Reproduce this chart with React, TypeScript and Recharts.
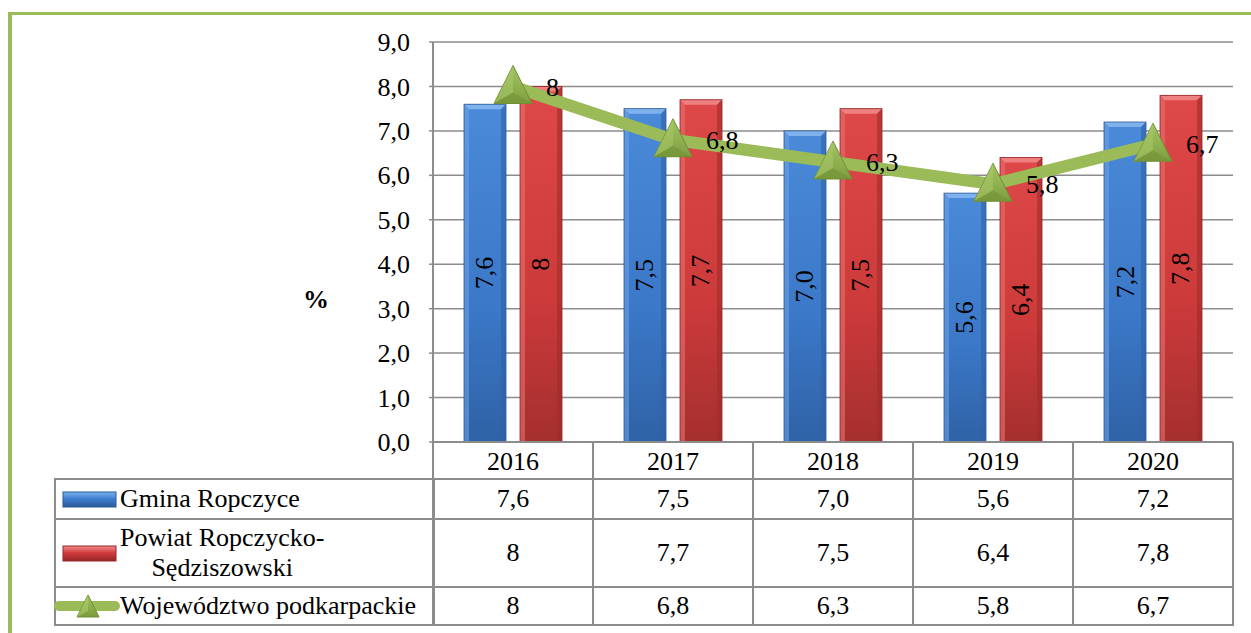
import React from 'react';
import { ComposedChart, Bar, Line, XAxis, YAxis, CartesianGrid, LabelList } from 'recharts';

const years = ['2016', '2017', '2018', '2019', '2020'];
const gmina = [7.6, 7.5, 7.0, 5.6, 7.2];
const powiat = [8, 7.7, 7.5, 6.4, 7.8];
const woj = [8, 6.8, 6.3, 5.8, 6.7];
const gminaLabels = ['7,6', '7,5', '7,0', '5,6', '7,2'];
const powiatLabels = ['8', '7,7', '7,5', '6,4', '7,8'];
const wojLabels = ['8', '6,8', '6,3', '5,8', '6,7'];
const yTicks = [0, 1, 2, 3, 4, 5, 6, 7, 8, 9];
const seriesNames = ['Gmina Ropczyce', 'Powiat Ropczycko-\nSędziszowski', 'Województwo podkarpackie'];

const data = years.map((y, i) => ({
  year: y,
  gmina: gmina[i],
  powiat: powiat[i],
  woj: woj[i],
  gminaLabel: gminaLabels[i],
  powiatLabel: powiatLabels[i],
  wojLabel: wojLabels[i],
}));

const FONT = '"Liberation Serif"';
const FS = 26;
const GRID = '#8c8c8c';
const GREEN = '#9BBB59';

const makeBarShape = (id: string, light: string, dark: string, edgeLight: string, edgeDark: string) => (props: any) => {
  const { x, y, width, height } = props;
  if (!height || height <= 0) return null;
  const b = 5;
  return (
    <g>
      <rect x={x} y={y} width={width} height={height} fill={`url(#${id})`} />
      <polygon points={`${x},${y} ${x + width},${y} ${x + width - b},${y + b} ${x + b},${y + b}`} fill={light} />
      <polygon points={`${x},${y} ${x + b},${y + b} ${x + b},${y + height} ${x},${y + height}`} fill={edgeLight} opacity={0.6} />
      <polygon points={`${x + width},${y} ${x + width - b},${y + b} ${x + width - b},${y + height} ${x + width},${y + height}`} fill={edgeDark} opacity={0.6} />
      <rect x={x} y={y} width={width} height={height} fill="none" stroke={dark} strokeWidth={0.8} />
    </g>
  );
};

const BlueBar = makeBarShape('gBlue', '#7fb2ec', '#2c5a96', '#6aa0e2', '#2e62a6');
const RedBar = makeBarShape('gRed', '#ef8080', '#8f2525', '#e87070', '#a02c2c');

const RotLabel = (props: any) => {
  const { x, y, width, height, value } = props;
  const cx = x + width / 2;
  const cy = y + height / 2;
  return (
    <text x={cx} y={cy} transform={`rotate(-90 ${cx} ${cy})`} textAnchor="middle" dominantBaseline="central"
      fontFamily="Liberation Serif" fontSize={FS} fill="#000">{value}</text>
  );
};

const Triangle = (props: any) => {
  const { cx, cy } = props;
  if (cx == null || cy == null) return null;
  const w = 38, h = 38;
  const top = cy - h / 2 - 2, bot = cy + h / 2 - 2;
  const ix = cx, iy = cy + 6;
  return (
    <g>
      <polygon points={`${cx},${top} ${cx + w / 2},${bot} ${cx - w / 2},${bot}`} fill="url(#gTri)" stroke="#6f8f33" strokeWidth={1} />
      <polygon points={`${cx},${top} ${ix},${iy} ${cx - w / 2},${bot}`} fill="#a9c96a" opacity={0.55} />
      <polygon points={`${cx - w / 2},${bot} ${ix},${iy} ${cx + w / 2},${bot}`} fill="#6f8f33" opacity={0.5} />
    </g>
  );
};

const XTick = (props: any) => {
  const { x, y, payload } = props;
  return (
    <text x={x} y={y + 19} dy="0.35em" textAnchor="middle" fontFamily="Liberation Serif" fontSize={FS} fill="#000">{payload.value}</text>
  );
};

const fmtY = (v: number) => v.toFixed(1).replace('.', ',');

const YTick = (props: any) => {
  const { x, y, payload } = props;
  return (
    <text x={x} y={y} dy="0.35em" textAnchor="end" fontFamily="Liberation Serif" fontSize={FS} fill="#000">{fmtY(payload.value)}</text>
  );
};

const WojLabel = (props: any) => {
  const { x, y, value } = props;
  return (
    <text x={x + 33} y={y} dy="0.35em" textAnchor="start" fontFamily="Liberation Serif" fontSize={FS} fill="#000">{value}</text>
  );
};

const Icon = ({ kind }: { kind: number }) => {
  if (kind === 2) {
    return (
      <svg width={66} height={26} style={{ display: 'block' }}>
        <line x1={5} y1={13} x2={61} y2={13} stroke={GREEN} strokeWidth={10} strokeLinecap="round" />
        <polygon points="34,2 45,24 23,24" fill="url(#gTriI)" stroke="#6f8f33" strokeWidth={1} />
        <polygon points="34,2 34,18 23,24" fill="#b0cf72" opacity={0.5} />
      </svg>
    );
  }
  const id = kind === 0 ? 'iBlue' : 'iRed';
  const c = kind === 0 ? ['#7ab2ef', '#3f7fd0', '#2b5a98'] : ['#f49090', '#d23c3c', '#962828'];
  return (
    <svg width={56} height={17} style={{ display: 'block' }}>
      <defs>
        <linearGradient id={id} x1="0" y1="0" x2="0" y2="1">
          <stop offset="0" stopColor={c[0]} />
          <stop offset="0.45" stopColor={c[1]} />
          <stop offset="1" stopColor={c[2]} />
        </linearGradient>
      </defs>
      <rect x={1} y={1} width={53} height={15} fill={`url(#${id})`} stroke={c[2]} strokeWidth={1} />
    </svg>
  );
};

const rowHeights = [40, 68, 38];
const rowValues = [gminaLabels, powiatLabels, wojLabels];

export default function App() {
  const cellBorder = `2px solid ${GRID}`;
  return (
    <div style={{ position: 'absolute', left: 0, top: 0, width: 1251, height: 633, overflow: 'hidden', background: '#fff', fontFamily: FONT }}>
      <div style={{ position: 'absolute', left: 8, top: 12, width: 1400, height: 800, borderLeft: `4px solid ${GREEN}`, borderTop: `3px solid ${GREEN}` }} />
      <svg width={0} height={0} style={{ position: 'absolute' }}>
        <defs>
          <linearGradient id="gTriI" x1="0" y1="0" x2="0" y2="1">
            <stop offset="0" stopColor="#a6c762" />
            <stop offset="1" stopColor="#7a9a3c" />
          </linearGradient>
        </defs>
      </svg>
      <div style={{ position: 'absolute', left: 0, top: 0 }}>
        <ComposedChart width={1251} height={479} data={data} margin={{ top: 42, right: 18, bottom: 0, left: 0 }} barGap={14}>
          <defs>
            <linearGradient id="gBlue" x1="0" y1="0" x2="0" y2="1">
              <stop offset="0" stopColor="#4a8ad8" />
              <stop offset="0.6" stopColor="#3b78c8" />
              <stop offset="1" stopColor="#2f62a6" />
            </linearGradient>
            <linearGradient id="gRed" x1="0" y1="0" x2="0" y2="1">
              <stop offset="0" stopColor="#de4848" />
              <stop offset="0.6" stopColor="#cc3a3a" />
              <stop offset="1" stopColor="#a52f2f" />
            </linearGradient>
            <linearGradient id="gTri" x1="0" y1="0" x2="0" y2="1">
              <stop offset="0" stopColor="#a3c563" />
              <stop offset="1" stopColor="#7e9f40" />
            </linearGradient>
          </defs>
          <CartesianGrid vertical={false} stroke={GRID} strokeWidth={1.5} />
          <XAxis dataKey="year" height={37} axisLine={{ stroke: GRID, strokeWidth: 2 }} tickLine={false} tickSize={0} tickMargin={0} tick={<XTick />} interval={0} />
          <YAxis width={433} domain={[0, 9]} ticks={yTicks} interval={0}
            axisLine={{ stroke: GRID, strokeWidth: 2 }} tickLine={{ stroke: GRID, strokeWidth: 1.5 }} tickSize={4} tickMargin={19}
            tick={<YTick />} />
          <Bar dataKey="gmina" barSize={42} shape={BlueBar} isAnimationActive={false}>
            <LabelList dataKey="gminaLabel" content={RotLabel} />
          </Bar>
          <Bar dataKey="powiat" barSize={42} shape={RedBar} isAnimationActive={false}>
            <LabelList dataKey="powiatLabel" content={RotLabel} />
          </Bar>
          <Line dataKey="woj" type="linear" stroke={GREEN} strokeWidth={12} dot={<Triangle />} activeDot={false} isAnimationActive={false}>
            <LabelList dataKey="wojLabel" content={WojLabel} />
          </Line>
        </ComposedChart>
      </div>
      <div style={{ position: 'absolute', left: 316, top: 300, transform: 'translate(-50%, -50%)', fontWeight: 'bold', fontSize: FS }}>%</div>
      {years.map((y, i) => (
        <div key={y} style={{ position: 'absolute', left: 433 + i * 160 - 1, top: 442, width: 162, height: 37, borderLeft: cellBorder, borderRight: i === years.length - 1 ? cellBorder : 'none', boxSizing: 'border-box' }} />
      ))}
      {rowValues.map((vals, r) => {
        const top = 479 + rowHeights.slice(0, r).reduce((a, b) => a + b, 0);
        const h = rowHeights[r];
        return (
          <React.Fragment key={r}>
            <div style={{ position: 'absolute', left: 54, top: top - 1, width: 381, height: h + 2, border: cellBorder, boxSizing: 'border-box' }}>
              <div style={{ position: 'absolute', top: 0, bottom: 0, left: r === 2 ? -2 : 6, display: 'flex', alignItems: 'center' }}><Icon kind={r} /></div>
              <div style={{ position: 'absolute', top: 0, bottom: 0, left: 64, display: 'flex', alignItems: 'center' }}>
                <div style={{ fontSize: FS, lineHeight: '30px', textAlign: 'center', whiteSpace: 'pre' }}>{seriesNames[r]}</div>
              </div>
            </div>
            {vals.map((v, i) => (
              <div key={i} style={{ position: 'absolute', left: 433 + i * 160 - 1, top: top - 1, width: 162, height: h + 2, border: cellBorder, boxSizing: 'border-box', display: 'flex', alignItems: 'center', justifyContent: 'center', fontSize: FS }}>{v}</div>
            ))}
          </React.Fragment>
        );
      })}
    </div>
  );
}
